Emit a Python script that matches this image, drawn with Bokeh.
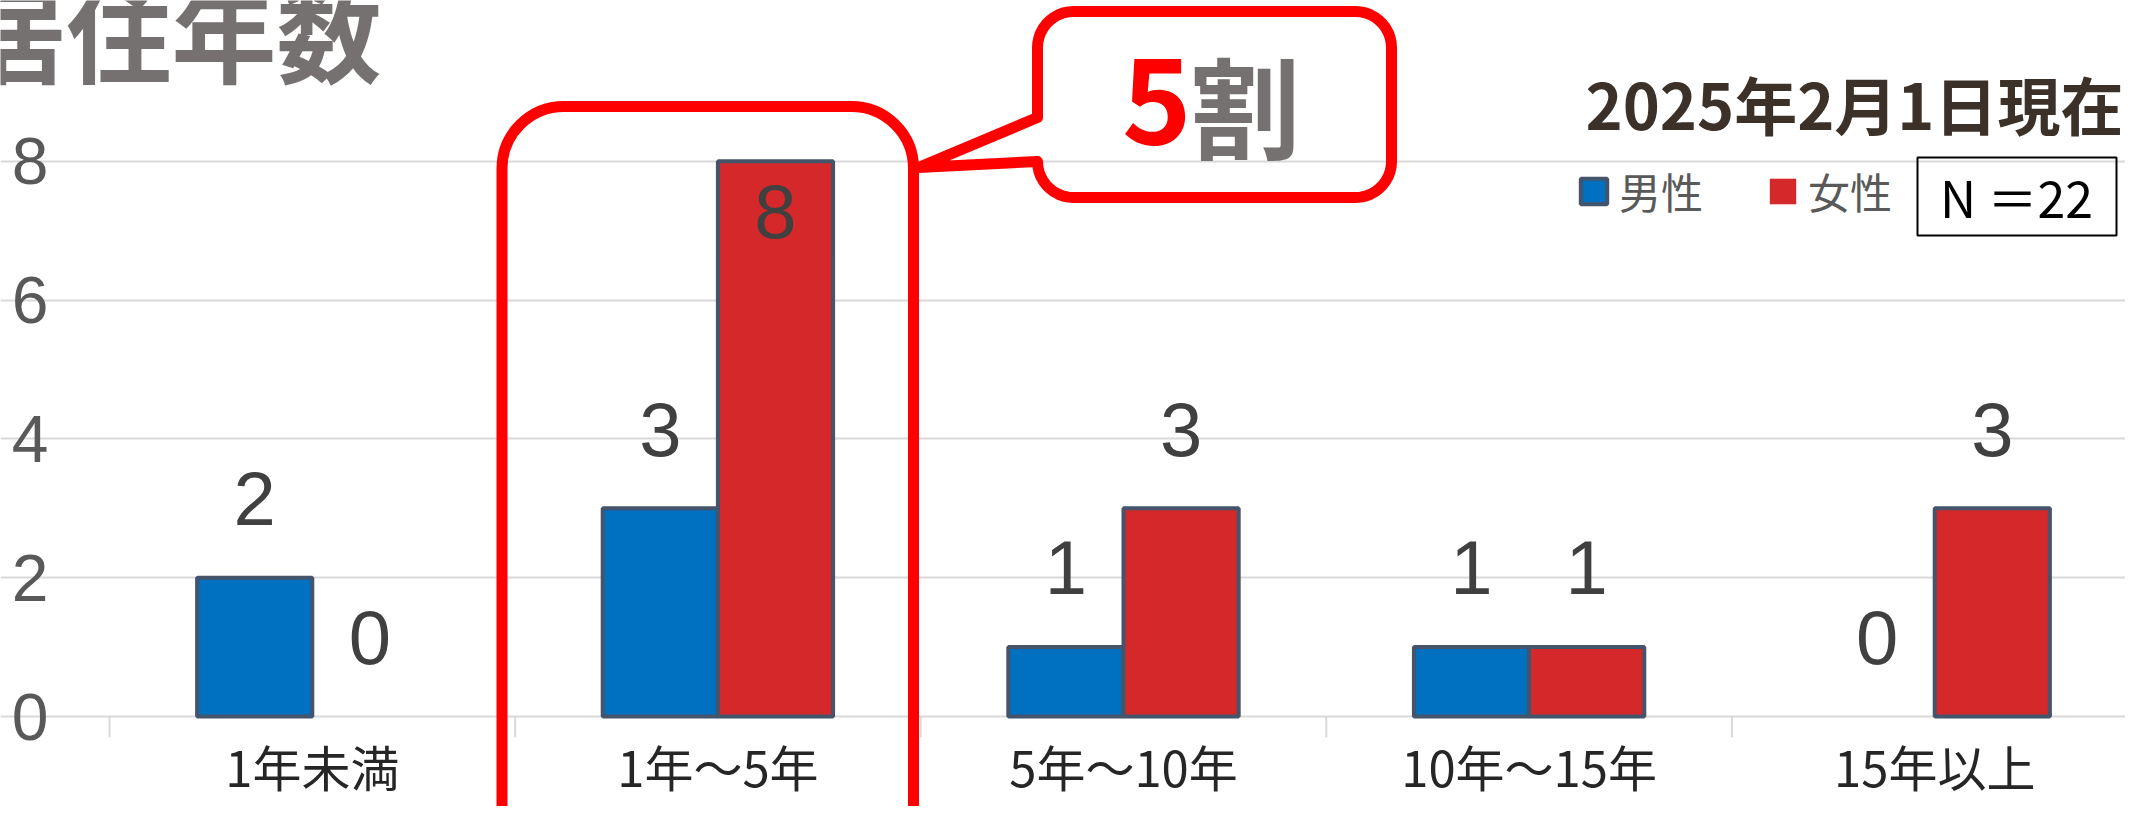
import numpy as np
from bokeh.plotting import figure
from bokeh.models import (Range1d, FixedTicker, Label, BoxAnnotation, PolyAnnotation,
                          Legend, LegendItem, ColumnDataSource)
from bokeh.core.properties import value
from bokeh.embed import file_html
from bokeh.resources import INLINE

# ---------------- data ----------------
categories = ["1年未満", "1年～5年", "5年～10年", "10年～15年", "15年以上"]
male = [2, 3, 1, 1, 0]
female = [0, 8, 3, 1, 3]
series_names = ["男性", "女性"]
y_ticks = [0, 2, 4, 6, 8]
title_text = "居住年数"
date_text = "2025年2月1日現在"
n_text = "N ＝22"
callout_num = "5"
callout_unit = "割"

# ---------------- layout helpers (reference pixel -> data) ----------------
W, H = 2125, 806
PX = 405.6        # px per category
PY = 69.4         # px per y unit
X0 = 109          # pixel x of category axis start
Y0 = 716          # pixel y of value 0


def X(rx):
    return (rx - X0) / PX


def Y(ry):
    return (Y0 - ry) / PY


n = len(categories)
p = figure(width=W, height=H, x_range=Range1d(X(0), X(W)), y_range=Range1d(Y(H), Y(0)),
           output_backend="svg", toolbar_location=None, x_axis_location=None,
           min_border_left=0, min_border_right=0, min_border_top=0, min_border_bottom=0)
p.outline_line_color = None
p.background_fill_color = "white"
p.border_fill_color = "white"

# y axis (drawn at the start of the category axis)
p.yaxis.fixed_location = 0
p.yaxis.ticker = FixedTicker(ticks=y_ticks)
p.yaxis.axis_line_color = None
p.yaxis.major_tick_line_color = None
p.yaxis.minor_tick_line_color = None
p.yaxis.major_tick_out = 0
p.yaxis.major_tick_in = 0
p.yaxis.major_label_standoff = 61
p.yaxis.major_label_text_font = "Liberation Sans"
p.yaxis.major_label_text_font_size = "66px"
p.yaxis.major_label_text_color = "#595959"
p.ygrid.ticker = FixedTicker(ticks=y_ticks)
p.ygrid.bounds = (0, n)
p.ygrid.grid_line_color = "#D9D9D9"
p.ygrid.grid_line_width = 2
p.xgrid.visible = False

# bars
centers = np.arange(n) + 0.5
BW = 0.284
src_m = ColumnDataSource(dict(x=centers - BW / 2, top=male,
                              la=[1.0 if v > 0 else 0.0 for v in male]))
src_f = ColumnDataSource(dict(x=centers + BW / 2, top=female,
                              la=[1.0 if v > 0 else 0.0 for v in female]))
rm = p.vbar(x="x", top="top", bottom=0, width=BW, source=src_m, fill_color="#0070C0",
            line_color="#44546A", line_width=4, line_alpha="la")
rf = p.vbar(x="x", top="top", bottom=0, width=BW, source=src_f, fill_color="#D5282B",
            line_color="#44546A", line_width=4, line_alpha="la")

# boundary ticks of category axis
bounds = list(range(n + 1))
p.segment(x0=bounds, y0=[0] * len(bounds), x1=bounds, y1=[-0.3] * len(bounds),
          line_color="#D9D9D9", line_width=2)

# data labels
ymax = max(male + female)


def lab_y(vals):
    return [v - 0.72 if v >= ymax else v + 1.14 for v in vals]


for xs, vals in ((centers - BW / 2, male), (centers + BW / 2, female)):
    p.text(x=list(xs), y=lab_y(vals), text=[str(v) for v in vals],
           text_align="center", text_baseline="middle",
           text_font=value("Liberation Sans"), text_font_size="76px", text_color="#404040")

# category labels
p.text(x=list(centers), y=[Y(765)] * n, text=categories, text_align="center",
       text_baseline="middle", text_font=value("Noto Sans CJK JP"),
       text_font_size="49px", text_color="#262626")

# legend
legend = Legend(items=[LegendItem(label=series_names[0], renderers=[rm]),
                       LegendItem(label=series_names[1], renderers=[rf])],
                orientation="horizontal", location=(1577, 585),
                glyph_width=33, glyph_height=32, label_standoff=9, spacing=63,
                padding=0, margin=0, label_height=32,
                label_text_font="Noto Sans CJK JP", label_text_font_size="42px",
                label_text_color="#595959", border_line_alpha=0, background_fill_alpha=0)
p.add_layout(legend, "center")

# N box
p.add_layout(BoxAnnotation(left=X(1917), right=X(2116), top=Y(157), bottom=Y(235),
                           fill_alpha=0, line_color="black", line_width=2, line_alpha=1))
p.add_layout(Label(x=X(2016), y=Y(195), text=n_text, text_align="center",
                   text_baseline="middle", text_font="Noto Sans CJK JP",
                   text_font_size="50px", text_color="black"))

# title and date
p.add_layout(Label(x=X(381), y=Y(28), text=title_text, text_align="right",
                   text_baseline="middle", text_font="Noto Sans CJK JP",
                   text_font_size="105px", text_font_style="bold", text_color="#767171"))
p.add_layout(Label(x=X(2123), y=Y(102), text=date_text, text_align="right",
                   text_baseline="middle", text_font="Noto Sans CJK JP",
                   text_font_size="63px", text_font_style="bold", text_color="#3B3129"))

# highlight rounded rectangle around 1年～5年
p.add_layout(BoxAnnotation(left=X(501.5), right=X(913), top=Y(106), bottom=Y(900),
                           fill_alpha=0, line_color="#FF0000", line_width=11, line_alpha=1,
                           border_radius=62))

# speech bubble
L, R, T, B, r = 1037, 1391, 11, 197, 36


def arc(cx, cy, a0, a1, k=12):
    t = np.linspace(np.radians(a0), np.radians(a1), k)
    return list(cx + r * np.cos(t)), list(cy - r * np.sin(t))


px, py = [L], [117]
for seg in (arc(L + r, T + r, 180, 90), arc(R - r, T + r, 90, 0),
            arc(R - r, B - r, 0, -90), arc(L + r, B - r, -90, -180)):
    px += seg[0]
    py += seg[1]
px += [918]
py += [167]
p.add_layout(PolyAnnotation(xs=[X(v) for v in px], ys=[Y(v) for v in py],
                            fill_alpha=0, line_color="#FF0000", line_width=11,
                            line_alpha=1, line_join="round"))
p.add_layout(Label(x=X(1191), y=Y(100), text=callout_num, text_align="right",
                   text_baseline="middle", text_font="Noto Sans CJK JP",
                   text_font_size="118px", text_font_style="bold", text_color="#FF0000"))
p.add_layout(Label(x=X(1190), y=Y(102), text=callout_unit, text_align="left",
                   text_baseline="middle", text_font="Noto Sans CJK JP",
                   text_font_size="110px", text_font_style="bold", text_color="#767171"))

open("out.html", "w").write(file_html(p, INLINE))
